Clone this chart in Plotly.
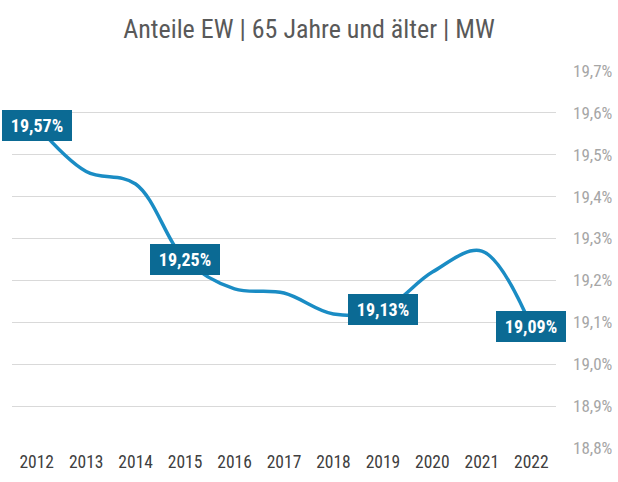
import plotly.graph_objects as go

years = ["2012", "2013", "2014", "2015", "2016", "2017", "2018", "2019", "2020", "2021", "2022"]
values = [19.57, 19.46, 19.43, 19.25, 19.18, 19.17, 19.12, 19.13, 19.22, 19.27, 19.09]
label_idx = [0, 3, 7, 10]
y_ticks = [18.8, 18.9, 19.0, 19.1, 19.2, 19.3, 19.4, 19.5, 19.6, 19.7]
y_ticktext = [f"{v:.1f}%".replace(".", ",") for v in y_ticks]

FONT = "Arial Narrow, Roboto Condensed, sans-serif"

fig = go.Figure()
fig.add_trace(go.Scatter(
    x=years, y=values, mode="lines",
    line=dict(color="#1a8cc4", width=3.5, shape="spline", smoothing=1.0),
    hoverinfo="skip", showlegend=False,
))

for i in label_idx:
    fig.add_annotation(
        x=i, y=values[i], xref="x", yref="y",
        text=f"<b>{values[i]:.2f}%</b>".replace(".", ","),
        showarrow=False, bgcolor="#0b6a94", borderpad=4, borderwidth=1,
        bordercolor="#0b6a94", width=60, height=21,
        font=dict(family=FONT, size=18, color="white"),
    )

fig.update_layout(
    width=618, height=482,
    margin=dict(l=12, r=62, t=70, b=33, autoexpand=False),
    paper_bgcolor="white", plot_bgcolor="white",
    title=dict(text="Anteile EW | 65 Jahre und älter | MW", x=0.5, xanchor="center",
               y=0.94, yanchor="middle",
               font=dict(family=FONT, size=26, color="#595959")),
    xaxis=dict(type="category", range=[-0.5, 10.5], showgrid=False, showline=False,
               zeroline=False, ticks="", automargin=False,
               tickfont=dict(family=FONT, size=17.5, color="#404040")),
    yaxis=dict(range=[18.798, 19.702], side="right", tickvals=y_ticks, ticktext=y_ticktext,
               showgrid=True, gridcolor="#d9d9d9", gridwidth=1, zeroline=False,
               showline=False, ticks="", ticklabelstandoff=16, automargin=False,
               tickfont=dict(family=FONT, size=17, color="#a6a6a6")),
)

fig.write_html("out.html", config={"displayModeBar": False},
               post_script="document.body.style.margin='0';")
